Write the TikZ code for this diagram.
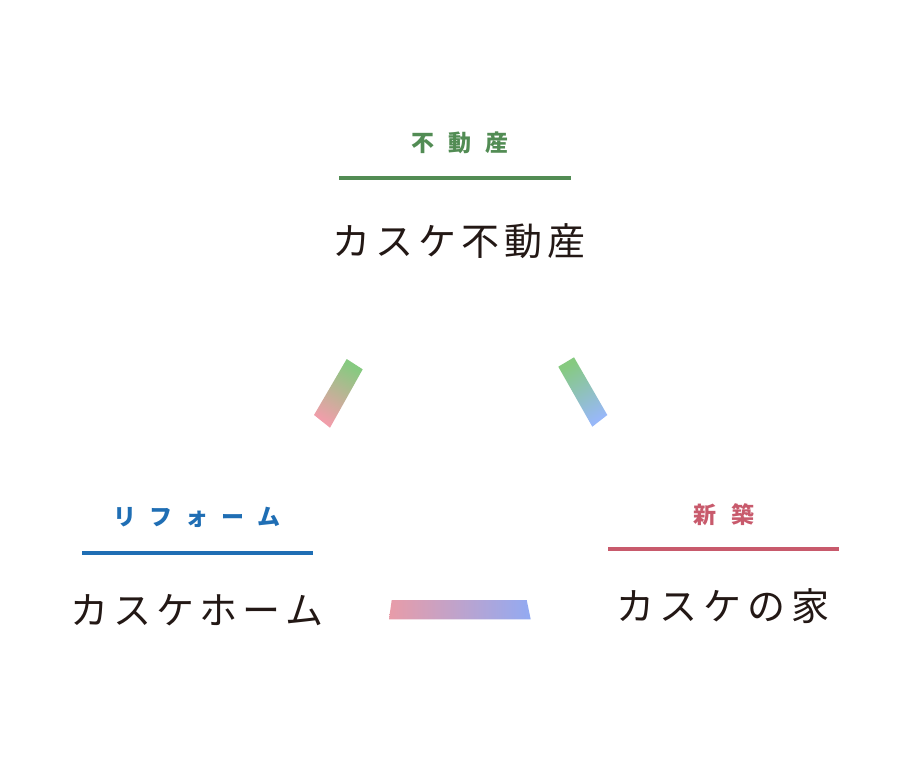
\documentclass[tikz,border=0pt]{standalone}
\usepackage{fontspec}
\newfontfamily\jp{Noto Sans CJK JP}
\definecolor{cgreen}{RGB}{82,140,84}
\definecolor{cblue}{RGB}{31,110,180}
\definecolor{cred}{RGB}{200,90,108}
\definecolor{cink}{RGB}{35,24,21}
\definecolor{bgreen}{RGB}{134,202,128}
\definecolor{bpink}{RGB}{240,158,170}
\definecolor{bblue}{RGB}{152,184,248}
\definecolor{bpink2}{RGB}{232,156,168}
\definecolor{bblue2}{RGB}{146,170,242}
\tikzset{
  cat/.style={font=\jp\bfseries\fontsize{23}{23}\selectfont, inner sep=0pt},
  brand/.style={font=\jp\fontsize{38}{38}\selectfont, text=cink, inner sep=0pt},
  rule/.style={line width=4.5pt},
}
\begin{document}
\begin{tikzpicture}[x=1pt,y=-1pt]
\useasboundingbox (0,0) rectangle (920,772);
% top group
\node[cat,text=cgreen] (tl) at (460,143) {不\hspace{14pt}動\hspace{14pt}産};
\coordinate (ta) at (339,178); \coordinate (tb) at (571,178);
\draw[rule,cgreen] (ta) -- (tb);
\node[brand] (tm) at (459,241) {カ\hspace{5pt}ス\hspace{5pt}ケ\hspace{5pt}不\hspace{5pt}動\hspace{5pt}産};
% left group
\node[cat,text=cblue] (ll) at (197,517) {リ\hspace{13pt}フ\hspace{13pt}ォ\hspace{13pt}ー\hspace{13pt}ム};
\coordinate (la) at (82,553); \coordinate (lb) at (313,553);
\draw[rule,cblue] (la) -- (lb);
\node[brand] (lm) at (197,610) {カ\hspace{5pt}ス\hspace{5pt}ケ\hspace{5pt}ホ\hspace{5pt}ー\hspace{5pt}ム};
% right group
\node[cat,text=cred] (rl) at (724,515) {新\hspace{15pt}築};
\coordinate (ra) at (608,549); \coordinate (rb) at (839,549);
\draw[rule,cred] (ra) -- (rb);
\node[brand] (rm) at (723,606) {カ\hspace{6pt}ス\hspace{6pt}ケ\hspace{6pt}の\hspace{6pt}家};
% gradient bars
\shade[top color=bgreen, bottom color=bpink, shading angle=-30]
  (346.7,359) -- (362.7,369.3) -- (330,427.7) -- (314,415) -- cycle;
\shade[top color=bgreen, bottom color=bblue, shading angle=30]
  (558.3,366.7) -- (574,357.3) -- (607.3,415) -- (592.3,426.7) -- cycle;
\shade[left color=bpink2, right color=bblue2]
  (391.7,600) -- (526.7,600) -- (530.7,619.3) -- (389,619.3) -- cycle;
\end{tikzpicture}
\end{document}
